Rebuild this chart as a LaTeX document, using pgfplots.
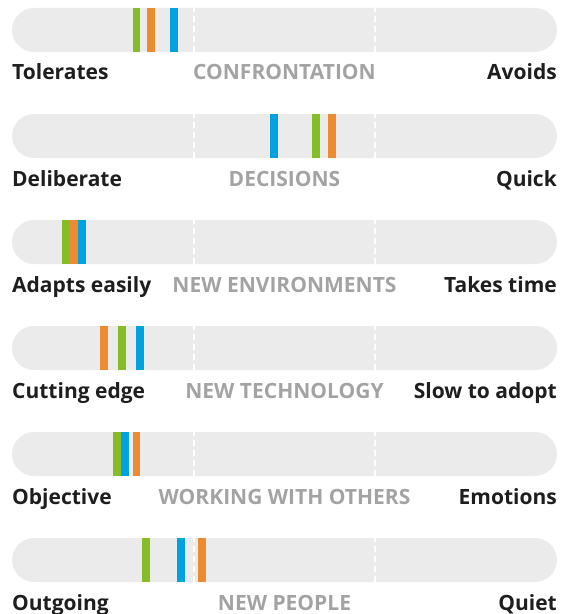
\documentclass[border=0pt]{standalone}
\usepackage{pgfplots}
\pgfplotsset{compat=1.18}
\usepackage{fontspec}
\setmainfont{Open Sans}

\definecolor{mkgreen}{HTML}{86BC25}
\definecolor{mkorange}{HTML}{ED8B33}
\definecolor{mkblue}{HTML}{00A3E0}
\definecolor{barbg}{HTML}{EBEBEB}
\definecolor{midgrey}{HTML}{A3A3A3}
\definecolor{darktxt}{HTML}{1E1E1E}

\pgfplotsset{
    scalebar/.style={
        width=545bp, height=44bp, scale only axis,
        xmin=0, xmax=100, ymin=0, ymax=1,
        axis lines=none, ticks=none, clip=false,
    },
    marker/.style={ycomb, no marks, line width=7.5bp, draw=#1},
}

% #1 yshift, #2 left, #3 middle, #4 right, #5 green, #6 orange, #7 blue
\newcommand\scalerow[7]{%
  \begin{axis}[scalebar, yshift=#1]
    \fill[barbg, rounded corners=22bp] (axis cs:0,0) rectangle (axis cs:100,1);
    \draw[white, line width=2bp, dash pattern=on 6bp off 4bp] (axis cs:33.33,0) -- (axis cs:33.33,1);
    \draw[white, line width=2bp, dash pattern=on 6bp off 4bp] (axis cs:66.67,0) -- (axis cs:66.67,1);
    \addplot[marker=mkgreen] coordinates {(#5,1)};
    \addplot[marker=mkorange] coordinates {(#6,1)};
    \addplot[marker=mkblue] coordinates {(#7,1)};
    \node[anchor=base west, inner sep=0pt, text=darktxt, yshift=-28bp] at (axis cs:0,0) {\bfseries #2};
    \node[anchor=base, inner sep=0pt, text=midgrey, yshift=-28bp] at (axis cs:50,0) {\bfseries #3};
    \node[anchor=base east, inner sep=0pt, text=darktxt, yshift=-28bp] at (axis cs:100,0) {\bfseries #4};
  \end{axis}%
}

\begin{document}
\begin{tikzpicture}[font=\fontsize{21bp}{24bp}\selectfont]
  \scalerow{0bp}{Tolerates}{CONFRONTATION}{Avoids}{22.8}{25.5}{29.7}
  \scalerow{-106bp}{Deliberate}{DECISIONS}{Quick}{55.8}{58.7}{48.1}
  \scalerow{-212bp}{Adapts easily}{NEW ENVIRONMENTS}{Takes time}{9.9}{11.4}{12.8}
  \scalerow{-318bp}{Cutting edge}{NEW TECHNOLOGY}{Slow to adopt}{20.2}{16.9}{23.5}
  \scalerow{-424bp}{Objective}{WORKING WITH OTHERS}{Emotions}{19.3}{22.8}{20.7}
  \scalerow{-530bp}{Outgoing}{NEW PEOPLE}{Quiet}{24.6}{34.9}{31.0}
  \pgfresetboundingbox
  \useasboundingbox (-12bp,-562bp) rectangle (553bp,52bp);
\end{tikzpicture}
\end{document}
